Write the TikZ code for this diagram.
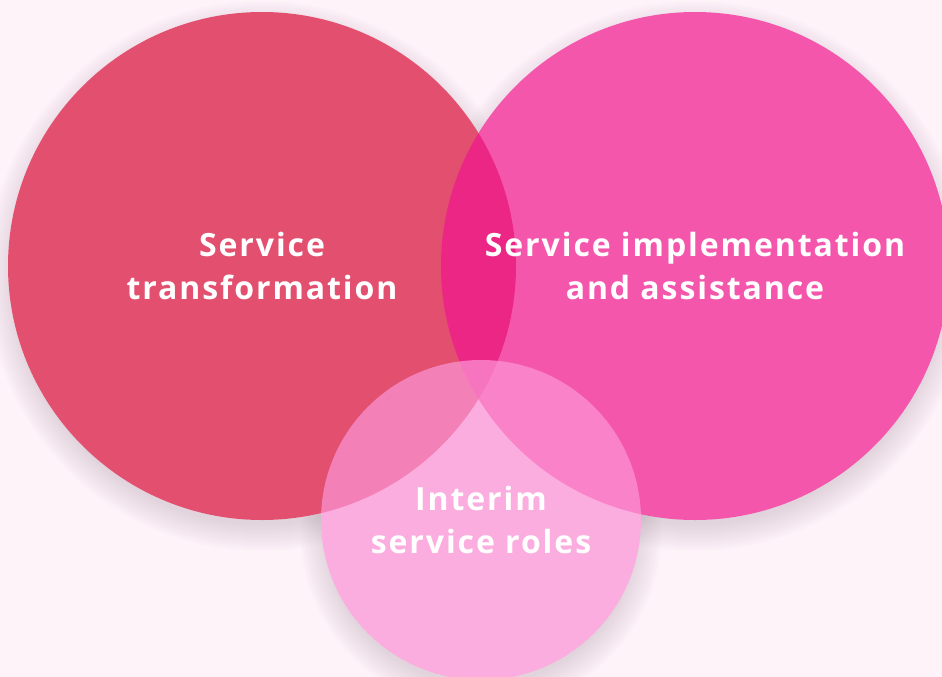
\documentclass[tikz,border=0pt]{standalone}
\usepackage{fontspec}
\setmainfont{Open Sans}[LetterSpace=6]
\usetikzlibrary{positioning}
\definecolor{blushbg}{rgb}{0.996, 0.953, 0.976}
\definecolor{rosered}{rgb}{0.886, 0.31, 0.435}
\definecolor{hotpink}{rgb}{0.945, 0.086, 0.553}
\definecolor{candypink}{rgb}{0.988, 0.576, 0.835}
\definecolor{shadowgrey}{rgb}{0.35, 0.25, 0.32}
\pgfdeclarelayer{background}
\pgfsetlayers{background,main}

\begin{document}
\begin{tikzpicture}[x=1pt, y=-1pt, node distance = 252pt and 433pt, on grid,
    disc/.style={circle, inner sep=0pt, text=white, text opacity=1, align=center, font=\fontsize{32}{43}\selectfont\bfseries}]
  \useasboundingbox (0,0) rectangle (942,677);
	\node [disc, fill=rosered, minimum size=508pt] (trans) at (262,266) {Service\\transformation};
	\node [disc, fill=hotpink, fill opacity=.71, minimum size=508pt] (impl) [right =of trans] {Service implementation\\and assistance};
	\node [disc, fill=candypink, fill opacity=.72, minimum size=320pt] (interim) [below right =254pt and 219pt of trans] {Interim\\service roles};
	\begin{pgfonlayer}{background}
		\fill [blushbg] (0,0) rectangle (942,677);
		% soft shadows, only outside the discs
		\begin{scope}[even odd rule]
			\clip (0,0) rectangle (942,677) (trans.center) circle (254pt);
			\begin{scope}[even odd rule]
				\clip (0,0) rectangle (942,677) (impl.center) circle (254pt);
				\begin{scope}[even odd rule]
					\clip (0,0) rectangle (942,677) (interim.center) circle (160pt);
					\foreach \n/\r in {trans/254, impl/254, interim/160}
						\foreach \i in {1,...,14}
							\fill [shadowgrey, opacity=.011] ([yshift=-10pt]\n.center) circle ({\r+2*\i-7});
				\end{scope}
			\end{scope}
		\end{scope}
	\end{pgfonlayer}
\end{tikzpicture}
\end{document}
